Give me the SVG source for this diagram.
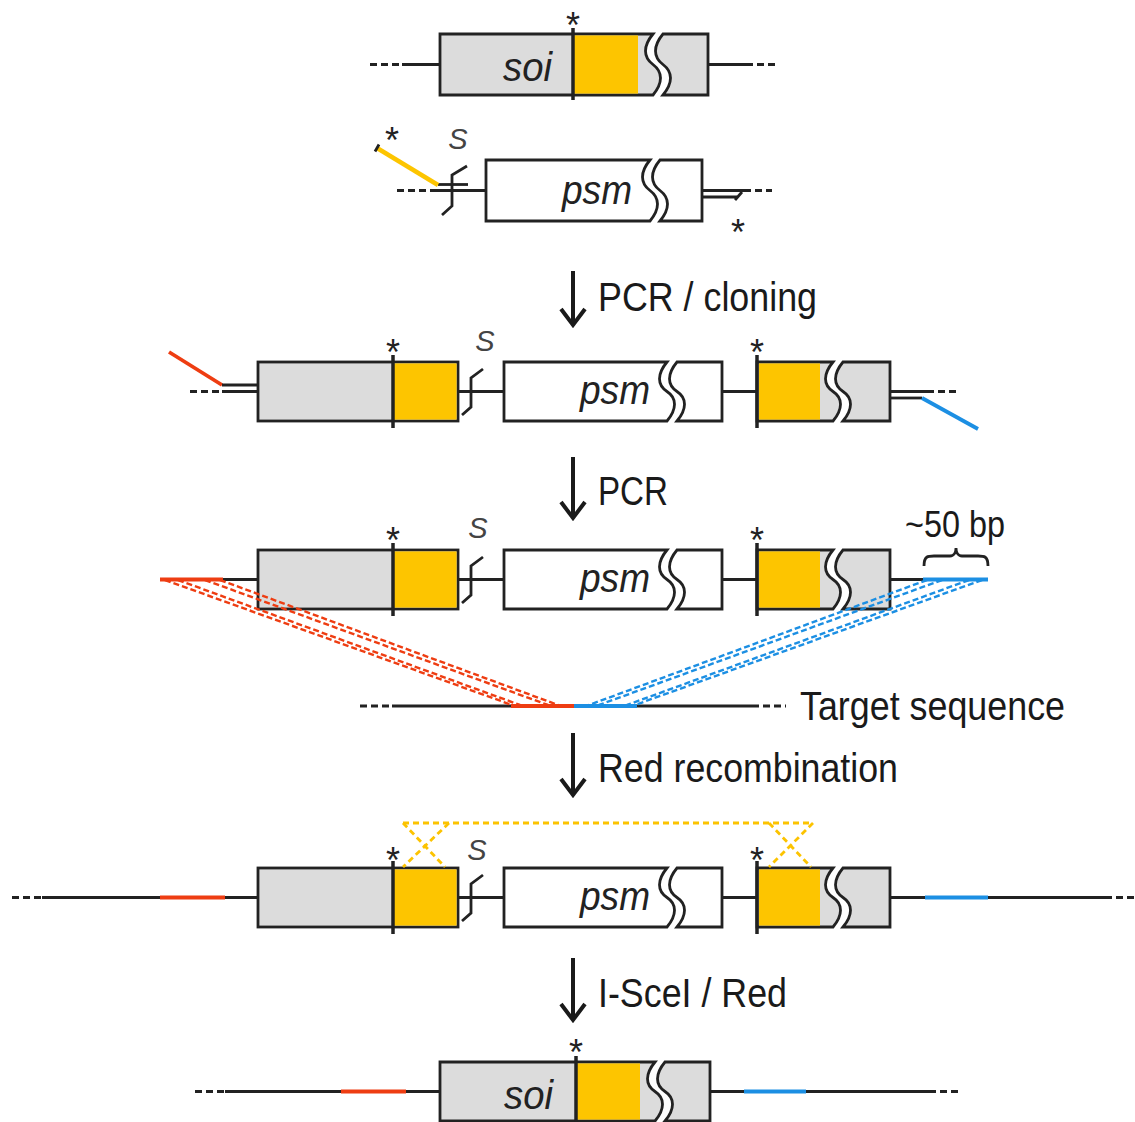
<svg xmlns="http://www.w3.org/2000/svg" width="1135" height="1122" viewBox="0 0 1135 1122">
<style>
.ln{stroke:#222;stroke-width:2.8;fill:none}
.dash{stroke:#222;stroke-width:2.8;stroke-dasharray:7 4;fill:none}
.ol{stroke:#222;stroke-width:2.8;stroke-linejoin:miter}
.gf{fill:#dcdcdc}
.wf{fill:#fff}
.yel{fill:#fdc500}
.div{stroke:#222;stroke-width:3.5}
.red{stroke:#ee3d12;stroke-width:3.8;fill:none}
.blue{stroke:#1c8fe3;stroke-width:3.8;fill:none}
.ypr{stroke:#fdc500;stroke-width:4.5;fill:none}
.rdash{stroke:#ee3d12;stroke-width:2.4;stroke-dasharray:6 3;fill:none}
.bdash{stroke:#1c8fe3;stroke-width:2.4;stroke-dasharray:6 3;fill:none}
.ydash{stroke:#fcc300;stroke-width:2.8;stroke-dasharray:6 4;fill:none}
.arrow{stroke:#1a1a1a;stroke-width:4;fill:none;stroke-linejoin:miter}
.star{font-family:"Liberation Sans",Arial,sans-serif;font-size:36px;fill:#222;text-anchor:middle}
.gene{font-family:"Liberation Sans",Arial,sans-serif;font-style:italic;font-size:41px;fill:#222}
.slab{font-family:"Liberation Sans",Arial,sans-serif;font-style:italic;font-size:29px;fill:#444;text-anchor:middle}
.lab{font-family:"Liberation Sans",Arial,sans-serif;font-size:41px;fill:#1a1a1a}
</style>

<!-- Row 1: gene of interest -->
<g id="gene-soi">
 <path class="dash" d="M370,64.5 H402"/>
 <path class="ln" d="M402,64.5 H440"/>
 <path class="ln" d="M708,64.5 H746"/>
 <path class="dash" d="M746,64.5 H778"/>
 <path class="ol gf" d="M440,34 H653 C643,46 643,57 653,64.5 C663,72 663,83 653,95 H440 Z"/>
 <path class="ol gf" d="M663,34 H708 V95 H663 C673,83 673,72 663,64.5 C653,57 653,46 663,34 Z"/>
 <rect class="yel" x="574" y="35.4" width="64" height="58.2"/>
 <line class="div" x1="573" y1="28" x2="573" y2="100"/>
 <text class="star" x="573" y="38">*</text>
 <text class="gene" x="503" y="81" textLength="49" lengthAdjust="spacingAndGlyphs">soi</text>
</g>

<!-- Row 2: psm cassette with primers -->
<g id="psm-cassette">
 <path class="dash" d="M397,190.5 H430"/>
 <path class="ln" d="M430,190.5 H486"/>
 <path class="ln" d="M438,184.5 H468"/>
 <line class="ypr" x1="377" y1="148" x2="438" y2="185"/>
 <line class="ln" x1="379" y1="144.5" x2="375" y2="151.5"/>
 <text class="star" x="392" y="153">*</text>
 <text class="slab" x="458" y="149">S</text>
 <path class="ln" d="M442,215 L452,206 V175 L467,166"/>
 <path class="ol wf" d="M486,160 H650 C640,172 640,183 650,190.5 C660,198 660,209 650,221 H486 Z"/>
 <path class="ol wf" d="M660,160 H702 V221 H660 C670,209 670,198 660,190.5 C650,183 650,172 660,160 Z"/>
 <text class="gene" x="562" y="204" textLength="70" lengthAdjust="spacingAndGlyphs">psm</text>
 <path class="ln" d="M702,190.5 H744"/>
 <path class="dash" d="M744,190.5 H772"/>
 <path class="ln" d="M702,197 H737"/>
 <line class="ln" x1="735" y1="200" x2="742" y2="192"/>
 <text class="star" x="738" y="245">*</text>
</g>

<!-- Row 3: cloned construct -->
<g id="construct-cloned" transform="translate(0,362)">
 <line class="red" x1="169" y1="-10" x2="222" y2="23"/>
 <path class="ln" d="M222,23 H258"/>
 <path class="dash" d="M190,29.5 H222"/>
 <path class="ln" d="M222,29.5 H258"/>
 <rect class="ol gf" x="258" y="0" width="200" height="59"/>
 <rect class="yel" x="394" y="1.4" width="62.6" height="56.2"/>
 <line class="div" x1="393" y1="-7" x2="393" y2="66"/>
 <text class="star" x="393" y="3">*</text>
 <text class="slab" x="485" y="-11">S</text>
 <path class="ln" d="M458,29.5 H504"/>
 <path class="ln" d="M462,53 L471,45 V16 L483,7"/>
 <path class="ol wf" d="M504,0 H667 C657,12 657,23 667,29.5 C677,36 677,47 667,59 H504 Z"/>
 <path class="ol wf" d="M677,0 H722 V59 H677 C687,47 687,36 677,29.5 C667,23 667,12 677,0 Z"/>
 <text class="gene" x="580" y="42" textLength="70" lengthAdjust="spacingAndGlyphs">psm</text>
 <path class="ln" d="M722,29.5 H757"/>
 <path class="ol gf" d="M757,0 H833 C823,12 823,23 833,29.5 C843,36 843,47 833,59 H757 Z"/>
 <path class="ol gf" d="M843,0 H890 V59 H843 C853,47 853,36 843,29.5 C833,23 833,12 843,0 Z"/>
 <rect class="yel" x="759" y="1.4" width="61" height="56.2"/>
 <line class="div" x1="757" y1="-7" x2="757" y2="66"/>
 <text class="star" x="757" y="3">*</text>
 <path class="ln" d="M890,29.5 H927"/>
 <path class="dash" d="M927,29.5 H960"/>
 <path class="ln" d="M890,36 H922"/>
 <line class="blue" x1="922" y1="36" x2="978" y2="67"/>
</g>

<!-- Row 4: PCR product with homology arms -->
<g id="construct-pcr" transform="translate(0,550)">
 <path class="red" d="M160,29.5 H223"/>
 <path class="ln" d="M223,29.5 H258"/>
 <rect class="ol gf" x="258" y="0" width="200" height="59"/>
 <rect class="yel" x="394" y="1.4" width="62.6" height="56.2"/>
 <line class="div" x1="393" y1="-7" x2="393" y2="66"/>
 <text class="star" x="393" y="3">*</text>
 <text class="slab" x="478" y="-12">S</text>
 <path class="ln" d="M458,29.5 H504"/>
 <path class="ln" d="M462,53 L471,45 V16 L483,7"/>
 <path class="ol wf" d="M504,0 H667 C657,12 657,23 667,29.5 C677,36 677,47 667,59 H504 Z"/>
 <path class="ol wf" d="M677,0 H722 V59 H677 C687,47 687,36 677,29.5 C667,23 667,12 677,0 Z"/>
 <text class="gene" x="580" y="42" textLength="70" lengthAdjust="spacingAndGlyphs">psm</text>
 <path class="ln" d="M722,29.5 H757"/>
 <path class="ol gf" d="M757,0 H833 C823,12 823,23 833,29.5 C843,36 843,47 833,59 H757 Z"/>
 <path class="ol gf" d="M843,0 H890 V59 H843 C853,47 853,36 843,29.5 C833,23 833,12 843,0 Z"/>
 <rect class="yel" x="759" y="1.4" width="61" height="56.2"/>
 <line class="div" x1="757" y1="-7" x2="757" y2="66"/>
 <text class="star" x="757" y="3">*</text>
 <path class="ln" d="M890,29.5 H923"/>
 <path class="blue" d="M923,29.5 H988"/>
 <path class="ln" d="M924,16 C924,6 928,6 934,6 L950,6 C954,6 956,2 956,-2 C956,2 958,6 962,6 L978,6 C984,6 988,6 988,16"/>
 <text class="lab" x="905" y="-13" style="font-size:36px" textLength="100" lengthAdjust="spacingAndGlyphs">~50 bp</text>
</g>

<!-- Target sequence -->
<g id="target">
 <path class="dash" d="M360,706 H392"/>
 <path class="ln" d="M392,706 H511"/>
 <path class="red" d="M511,706 H574"/>
 <path class="blue" d="M574,706 H637"/>
 <path class="ln" d="M637,706 H752"/>
 <path class="dash" d="M752,706 H786"/>
 <text class="lab" x="800" y="720" textLength="265" lengthAdjust="spacingAndGlyphs">Target sequence</text>
</g>

<!-- Row 5: recombined locus -->
<g id="construct-integrated" transform="translate(0,868)">
 <path class="dash" d="M12,29.5 H42"/>
 <path class="ln" d="M42,29.5 H160"/>
 <path class="red" d="M160,29.5 H225"/>
 <path class="ln" d="M225,29.5 H258"/>
 <rect class="ol gf" x="258" y="0" width="200" height="59"/>
 <rect class="yel" x="394" y="1.4" width="62.6" height="56.2"/>
 <line class="div" x1="393" y1="-7" x2="393" y2="66"/>
 <text class="star" x="393" y="5">*</text>
 <text class="slab" x="477" y="-8">S</text>
 <path class="ln" d="M458,29.5 H504"/>
 <path class="ln" d="M462,53 L471,45 V16 L483,7"/>
 <path class="ol wf" d="M504,0 H667 C657,12 657,23 667,29.5 C677,36 677,47 667,59 H504 Z"/>
 <path class="ol wf" d="M677,0 H722 V59 H677 C687,47 687,36 677,29.5 C667,23 667,12 677,0 Z"/>
 <text class="gene" x="580" y="42" textLength="70" lengthAdjust="spacingAndGlyphs">psm</text>
 <path class="ln" d="M722,29.5 H757"/>
 <path class="ol gf" d="M757,0 H833 C823,12 823,23 833,29.5 C843,36 843,47 833,59 H757 Z"/>
 <path class="ol gf" d="M843,0 H890 V59 H843 C853,47 853,36 843,29.5 C833,23 833,12 843,0 Z"/>
 <rect class="yel" x="759" y="1.4" width="61" height="56.2"/>
 <line class="div" x1="757" y1="-7" x2="757" y2="66"/>
 <text class="star" x="757" y="5">*</text>
 <path class="ln" d="M890,29.5 H925"/>
 <path class="blue" d="M925,29.5 H988"/>
 <path class="ln" d="M988,29.5 H1105"/>
 <path class="dash" d="M1105,29.5 H1135"/>
 <path class="ydash" d="M403,-45 H813"/>
 <path class="ydash" d="M403,-45 L445,-1 M449,-45 L403,-1"/>
 <path class="ydash" d="M769,-45 L811,-1 M813,-45 L769,-1"/>
</g>

<!-- Row 6: final markerless locus -->
<g id="gene-soi-final">
 <path class="dash" d="M195,1091.5 H225"/>
 <path class="ln" d="M225,1091.5 H341"/>
 <path class="red" d="M341,1091.5 H406"/>
 <path class="ln" d="M406,1091.5 H440"/>
 <path class="ln" d="M710,1091.5 H744"/>
 <path class="blue" d="M744,1091.5 H806"/>
 <path class="ln" d="M806,1091.5 H929"/>
 <path class="dash" d="M929,1091.5 H959"/>
 <path class="ol gf" d="M440,1062 H655 C645,1074 645,1085 655,1091.5 C665,1098 665,1109 655,1121 H440 Z"/>
 <path class="ol gf" d="M665,1062 H710 V1121 H665 C675,1109 675,1098 665,1091.5 C655,1085 655,1074 665,1062 Z"/>
 <rect class="yel" x="577" y="1063.4" width="63" height="56.2"/>
 <line class="div" x1="576" y1="1056" x2="576" y2="1122"/>
 <text class="star" x="576" y="1065">*</text>
 <text class="gene" x="504" y="1109" textLength="49" lengthAdjust="spacingAndGlyphs">soi</text>
</g>

<!-- Connectors: process arrows and homology fan lines -->
<g id="connectors">
 <path class="rdash" d="M165,580 L512,705"/>
 <path class="rdash" d="M178,580 L520,705"/>
 <path class="rdash" d="M205,580 L548,705"/>
 <path class="rdash" d="M220,580 L558,705"/>
 <path class="bdash" d="M982,580 L635,705"/>
 <path class="bdash" d="M969,580 L627,705"/>
 <path class="bdash" d="M942,580 L599,705"/>
 <path class="bdash" d="M927,580 L589,705"/>

 <path class="arrow" d="M573,271 V324 M561,309 L573,325 L585,309"/>
 <path class="arrow" d="M573,457 V517 M561,502 L573,518 L585,502"/>
 <path class="arrow" d="M573,733 V794 M561,779 L573,795 L585,779"/>
 <path class="arrow" d="M573,958 V1019 M561,1004 L573,1020 L585,1004"/>
</g>

<g id="step-labels">
 <text class="lab" x="598" y="311" textLength="219" lengthAdjust="spacingAndGlyphs">PCR / cloning</text>
 <text class="lab" x="598" y="505" textLength="70" lengthAdjust="spacingAndGlyphs">PCR</text>
 <text class="lab" x="598" y="782" textLength="300" lengthAdjust="spacingAndGlyphs">Red recombination</text>
 <text class="lab" x="598" y="1007" textLength="189" lengthAdjust="spacingAndGlyphs">I-SceI / Red</text>
</g>
</svg>
